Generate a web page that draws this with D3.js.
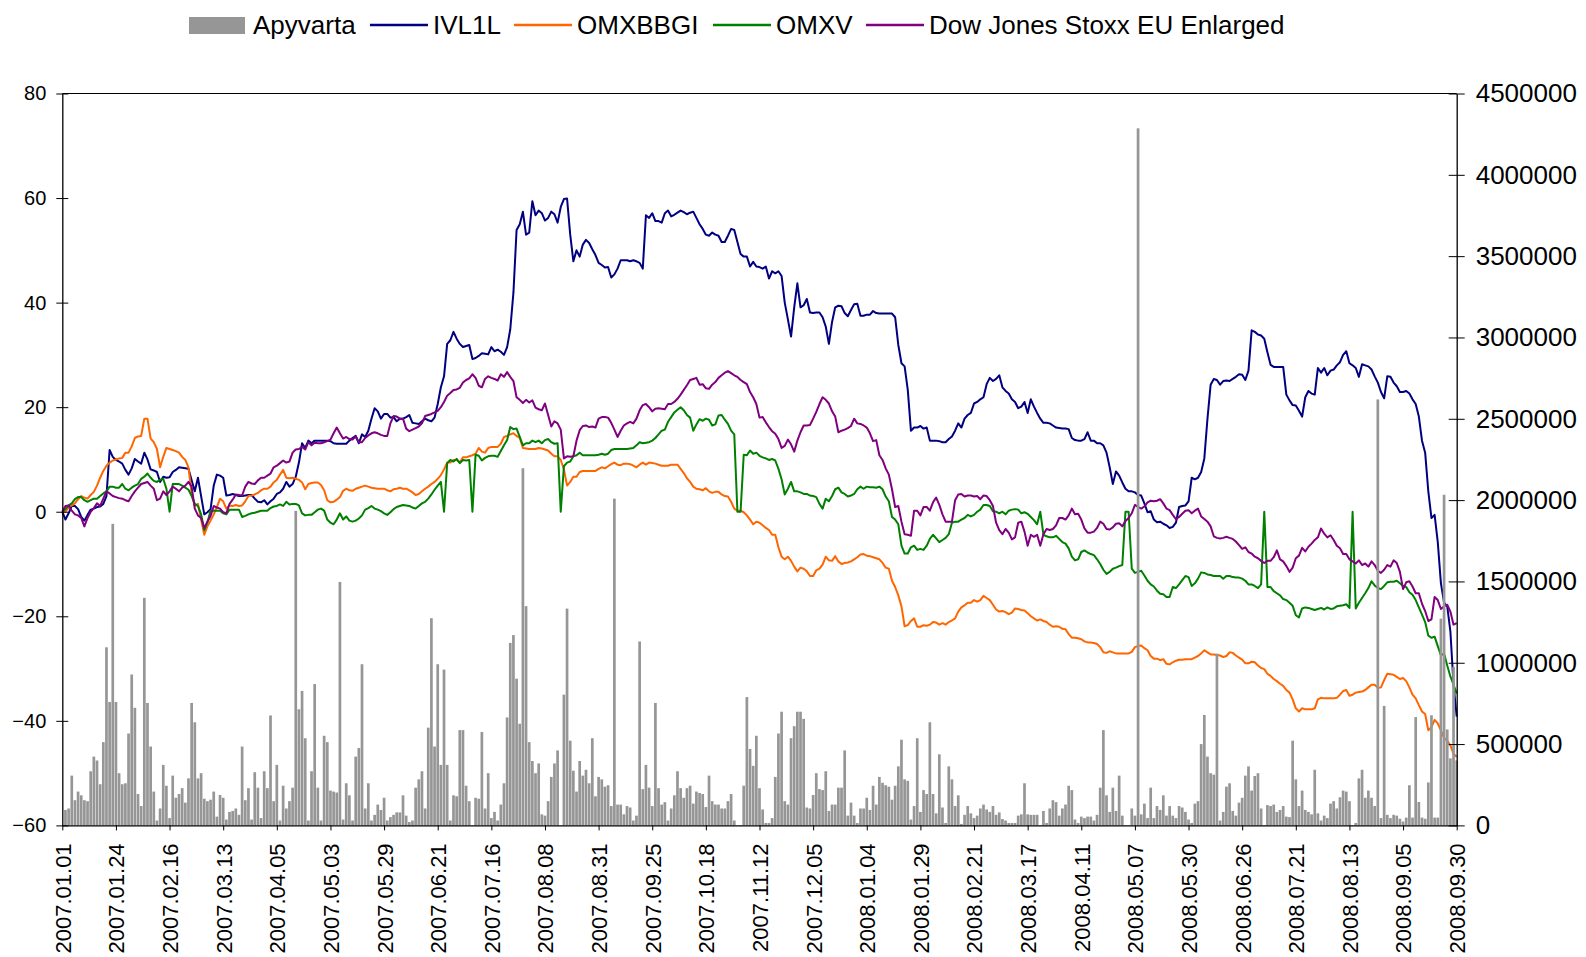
<!DOCTYPE html>
<html><head><meta charset="utf-8">
<script src="https://cdn.jsdelivr.net/npm/d3@7"></script>
<style>
html,body{margin:0;padding:0;background:#fff;}
svg{display:block;}
text{font-family:"Liberation Sans",Arial,Helvetica,sans-serif;fill:#000;}
</style>
</head><body>
<svg id="chart" width="1586" height="957"></svg>
<script>
// ---------- DATA ----------
const tickLabels = ["2007.01.01","2007.01.24","2007.02.16","2007.03.13","2007.04.05","2007.05.03","2007.05.29","2007.06.21","2007.07.16","2007.08.08","2007.08.31","2007.09.25","2007.10.18","2007.11.12","2007.12.05","2008.01.04","2008.01.29","2008.02.21","2008.03.17","2008.04.11","2008.05.07","2008.05.30","2008.06.26","2008.07.21","2008.08.13","2008.09.05","2008.09.30"];
const daysPerLabel = 17; // trading days between labelled dates

// Apyvarta (turnover), thousands
const apyvartaK = [
0,95,104,306,155,208,185,155,149,333,
423,399,253,512,1095,759,1854,759,321,253,
259,565,928,723,193,119,1399,753,485,208,
30,104,372,244,45,306,170,193,229,140,
289,753,634,289,321,164,149,158,208,54,
187,170,36,83,89,104,65,485,155,229,
36,327,232,45,333,229,676,149,372,30,
244,104,149,232,1934,714,827,536,30,333,
869,232,30,551,512,214,208,202,1497,36,
259,185,30,423,476,991,104,259,30,65,
128,95,170,30,51,65,80,80,185,60,
21,30,232,283,333,104,601,1274,485,991,
372,958,372,30,185,179,586,586,244,149,
0,170,164,574,104,321,45,83,30,128,
259,664,1122,1170,902,625,2196,1348,512,396,
321,381,68,60,149,298,381,461,0,804,
1333,521,336,208,396,306,342,259,536,179,
298,283,238,247,119,2009,128,128,68,119,
110,30,60,1131,223,372,232,119,753,229,
128,143,30,104,185,333,229,170,229,244,
134,208,199,193,113,306,149,128,128,104,
104,149,193,30,0,0,244,789,470,366,
551,229,98,15,15,45,298,565,699,149,
128,536,610,699,699,655,110,104,187,321,
223,217,333,89,128,128,232,232,461,60,
140,60,15,104,104,170,95,244,128,298,
262,247,238,158,244,363,527,283,274,36,
119,536,83,217,193,634,193,74,437,110,
15,363,283,119,185,9,65,119,74,45,
60,104,128,98,83,119,65,80,39,30,
15,15,15,60,68,259,68,65,65,65,
0,89,15,104,155,143,60,104,128,244,
217,36,15,54,45,54,54,30,65,232,
586,185,83,232,89,306,60,0,0,104,
60,4286,68,134,45,232,45,119,95,185,
60,119,60,45,119,110,83,36,15,134,
149,500,679,423,321,312,1056,30,83,238,
259,89,60,140,170,306,363,214,304,321,
104,0,125,119,128,83,95,119,54,51,
521,283,119,214,95,83,68,342,74,30,
60,45,134,149,104,173,214,208,149,0,
15,289,342,170,214,170,119,2619,45,735,
65,45,65,60,41,24,48,247,48,666,
144,48,41,264,677,48,48,1271,2033,590,
412,975,400];

const ivl1l = [
0,-1.5,-0.3,1.1,1.1,0.5,-1.0,-1.7,-0.6,0.4,
0.6,0.9,1.0,1.5,3.0,11.8,10.5,9.9,9.6,9.2,
8.0,7.1,8.3,10.1,9.6,9.2,11.3,10.0,8.1,7.9,
7.6,5.7,6.7,6.5,6.6,7.6,8.0,8.5,8.4,8.3,
8.2,6.0,3.9,6.5,3.0,-0.5,-0.1,0.5,5.0,7.1,
6.9,6.5,3.1,3.2,3.4,3.2,3.0,3.0,3.1,3.2,
3.2,2.5,1.9,1.8,2.2,1.4,2.0,2.5,3.4,3.7,
4.4,5.7,4.8,5.3,6.7,9.4,13.1,12.2,13.6,13.1,
13.6,13.6,13.6,13.6,13.6,13.5,13.1,13.0,13.0,13.0,
13.0,13.6,14.1,14.5,13.1,14.8,14.3,15.5,17.8,19.8,
19.2,17.8,18.7,18.7,18.0,18.1,17.3,17.8,17.8,18.1,
18.5,17.0,16.9,16.8,17.3,17.8,17.5,17.3,18.0,20.6,
23.8,25.9,32.1,32.8,34.4,33.1,32.1,31.5,31.7,31.9,
29.2,29.4,29.8,30.3,30.2,30.1,31.5,30.7,31.0,30.6,
30.0,31.5,34.9,41.9,53.9,55.0,57.4,53.0,53.4,59.4,
56.7,57.6,57.1,55.7,56.2,57.4,56.9,55.3,58.3,59.8,
59.9,53.0,47.9,50.0,48.8,51.1,52.0,51.4,50.2,49.1,
47.6,47.2,46.7,46.8,44.8,45.4,46.5,48.1,48.1,48.1,
47.9,48.1,47.9,47.6,46.5,56.7,56.2,57.1,55.6,55.6,
55.3,57.1,57.6,56.5,56.8,57.2,57.6,57.3,56.9,57.2,
57.4,56.2,55.0,54.1,53.0,52.8,53.4,53.0,52.8,51.6,
51.6,52.8,54.1,53.9,51.6,49.3,48.8,48.8,46.9,47.8,
46.9,46.8,46.5,46.9,44.6,46.0,45.6,46.0,45.1,40.0,
36.8,33.5,39.1,43.7,39.1,39.5,40.7,38.1,38.0,38.1,
38.1,37.2,35.4,32.1,36.3,39.1,39.4,39.3,38.0,37.4,
38.6,39.7,39.8,37.5,37.5,37.7,37.7,38.4,38.0,37.9,
37.9,37.9,37.9,37.9,37.2,31.9,28.4,27.8,23.3,15.5,
16.1,16.1,16.4,15.9,16.1,13.6,13.6,13.6,13.5,13.3,
13.3,13.9,14.4,15.5,16.9,16.1,17.8,18.5,18.9,20.7,
21.0,21.5,21.9,24.4,25.6,25.0,25.4,26.1,23.8,23.1,
22.6,21.5,21.0,19.8,20.1,21.0,18.9,21.5,20.1,18.9,
17.8,17.0,17.0,16.9,16.5,16.1,16.0,15.9,15.9,15.8,
14.1,13.7,13.6,13.6,13.9,15.2,13.6,13.6,13.1,13.1,
12.7,11.3,8.5,5.3,7.7,6.9,5.6,4.4,3.9,3.9,
3.7,3.2,3.1,1.6,-0.1,0.1,-1.5,-2.0,-1.9,-2.3,
-2.6,-3.1,-2.9,-2.1,0.9,1.1,1.2,2.0,6.5,6.2,
6.5,7.6,10.2,17.8,24.3,25.4,25.2,24.3,25.0,25.1,
25.0,25.4,25.8,26.3,26.2,25.2,27.0,34.7,34.4,33.9,
33.7,33.1,30.5,28.1,27.7,27.7,27.7,27.7,22.4,21.3,
20.4,20.3,19.3,18.2,21.9,23.1,22.6,22.4,27.5,26.6,
27.5,26.1,27.0,27.2,28.0,28.6,30.0,30.7,28.4,28.0,
27.5,25.8,28.2,28.0,27.8,27.2,25.9,24.7,22.9,21.7,
25.9,25.8,24.7,24.0,22.9,22.9,23.1,22.6,21.5,20.6,
18.2,13.6,11.3,3.9,-1.2,-0.6,-5.8,-13.7,-17.4,-18.1,
-22.9,-33.1,-39.2];

const omxbbgi = [
0,0,0.8,1.2,1.6,2.4,3.0,2.7,2.5,3.2,
3.8,5.0,6.5,7.8,8.8,9.4,9.8,10.0,10.2,10.3,
11.3,11.3,12.5,14.1,14.4,14.5,17.8,17.8,14.0,13.3,
12.0,8.5,10.5,12.2,12.0,11.8,11.6,11.3,10.5,9.9,
8.5,3.5,1.1,1.5,-1.5,-4.4,-2.8,-1.7,-0.5,0.9,
2.5,2.0,0.6,1.2,1.1,1.3,1.1,1.2,2.0,3.0,
3.1,3.3,3.6,4.1,4.4,4.4,4.8,5.6,6.1,7.1,
8.0,6.5,6.4,6.5,6.3,6.1,5.6,4.3,5.3,5.5,
5.6,5.6,5.1,4.1,2.2,1.8,1.9,2.3,2.8,4.0,
4.4,4.1,4.0,4.4,4.6,4.8,5.0,4.8,4.6,4.5,
4.4,4.4,4.4,4.1,3.9,4.3,4.4,4.6,4.4,4.4,
4.1,3.7,3.2,3.4,3.9,4.4,4.8,5.3,5.7,6.3,
7.0,8.1,9.4,9.4,9.9,9.9,9.4,10.4,10.4,10.6,
10.8,11.1,12.2,11.5,11.3,12.2,12.4,12.4,12.4,13.0,
14.3,14.5,14.8,15.0,14.5,14.1,12.2,12.1,12.0,12.0,
12.0,12.2,12.1,11.9,11.7,11.1,10.6,10.6,9.9,8.1,
5.0,5.7,6.7,6.7,7.6,7.8,7.8,7.8,7.8,7.8,
8.2,8.5,8.3,8.7,9.1,9.4,9.0,8.9,9.2,9.2,
9.1,8.8,8.5,9.0,9.4,9.0,9.4,9.3,9.2,9.0,
8.8,8.8,8.8,9.0,9.0,9.0,8.2,7.4,6.4,5.7,
4.8,4.4,4.3,4.1,4.5,3.9,3.6,3.8,3.8,3.3,
3.0,2.9,1.9,0.6,0.2,0.2,-0.1,-0.7,-1.5,-2.4,
-1.9,-2.1,-2.6,-3.1,-3.5,-4.4,-4.4,-6.8,-8.6,-9.1,
-8.6,-9.4,-10.5,-11.4,-10.7,-10.9,-11.4,-12.3,-12.3,-11.2,
-10.9,-10.1,-8.6,-9.3,-9.4,-8.5,-9.5,-10.0,-9.8,-9.7,
-9.5,-9.1,-8.7,-8.2,-8.1,-8.4,-8.5,-8.7,-8.9,-9.1,
-9.8,-10.7,-10.9,-13.2,-14.4,-16.0,-18.1,-21.9,-21.7,-20.9,
-20.4,-22.0,-22.0,-21.7,-21.8,-21.6,-21.1,-21.2,-21.6,-21.3,
-21.6,-21.1,-20.8,-20.4,-19.1,-18.3,-17.9,-17.4,-17.4,-16.9,
-17.2,-16.9,-16.1,-16.5,-16.9,-17.8,-18.7,-19.1,-19.0,-19.2,
-19.6,-19.3,-18.5,-18.6,-18.8,-18.9,-19.4,-20.0,-20.4,-20.8,
-20.6,-20.9,-21.1,-21.6,-22.0,-21.9,-22.0,-22.4,-22.5,-23.4,
-24.1,-24.1,-24.2,-24.4,-24.8,-25.0,-25.0,-25.1,-25.3,-25.9,
-26.9,-27.0,-26.7,-26.9,-27.1,-27.1,-27.1,-27.1,-27.1,-26.8,
-25.9,-25.7,-25.6,-26.1,-26.5,-27.6,-28.1,-28.1,-28.4,-28.2,
-29.1,-29.2,-28.8,-28.5,-28.3,-28.3,-28.2,-28.2,-28.2,-27.9,
-27.6,-27.1,-26.5,-26.9,-27.3,-27.3,-27.4,-27.5,-27.8,-27.6,
-26.9,-27.0,-27.5,-27.9,-28.3,-29.0,-29.0,-28.7,-28.8,-29.4,
-29.9,-30.1,-31.0,-31.4,-32.0,-32.4,-32.9,-33.3,-34.1,-34.6,
-35.9,-37.6,-38.2,-37.6,-37.8,-37.8,-37.8,-37.6,-35.9,-35.6,
-35.7,-35.7,-35.7,-35.7,-35.6,-35.0,-34.3,-34.1,-35.2,-35.0,
-34.6,-34.5,-34.4,-34.1,-33.6,-33.1,-33.1,-33.7,-33.6,-32.2,
-31.0,-31.1,-31.2,-31.6,-32.0,-31.8,-32.4,-33.6,-35.0,-35.7,
-37.0,-38.2,-38.7,-41.8,-41.2,-39.8,-40.5,-41.8,-43.3,-43.8,
-44.7,-46.3,-46.9];

const omxv = [
0,0.5,1.2,1.6,2.4,2.8,2.8,2.2,1.9,2.2,
2.5,2.5,3.0,3.5,3.9,4.8,4.8,4.6,4.6,5.3,
4.4,4.1,4.6,5.0,5.3,6.3,6.7,7.3,6.5,5.9,
5.7,6.1,6.3,4.4,0,5.3,5.3,5.3,5.0,4.6,
4.2,3.0,1.5,1.1,-0.5,-3.5,-2.0,0.2,0.2,0.2,
0.2,-0.3,-0.5,0.4,0.4,0.4,0.4,-1.0,-0.8,-0.5,
-0.3,-0.2,0.0,0.2,0.2,0.2,0.7,1.0,1.1,1.4,
1.1,1.9,1.4,1.5,1.5,1.2,-0.3,-0.7,-0.6,-0.6,
-0.1,0.4,0.6,0.2,-1.5,-2.1,-2.4,-1.5,-0.3,-1.5,
-0.9,-1.7,-1.9,-1.7,-1.3,-0.7,0.4,0.7,1.1,0.6,
0.4,0.1,-0.3,-0.6,-0.1,0.5,0.9,1.1,1.3,1.2,
1.1,0.8,0.6,1.1,1.6,1.9,2.5,3.3,4.2,5.0,
5.7,0,9.3,9.9,9.6,10.1,9.3,9.9,9.8,9.9,
0,10.9,10.7,9.8,10.3,10.6,10.7,10.7,10.5,11.6,
12.7,13.7,16.2,15.8,15.9,14.3,12.7,13.1,13.1,13.6,
13.3,13.6,13.1,13.7,13.9,13.3,13.0,13.1,0,8.7,
9.4,9.6,10.6,10.8,11.3,10.8,10.8,10.8,10.8,10.8,
10.9,11.1,10.9,11.1,11.8,12.0,12.0,12.0,12.0,12.0,
12.1,12.2,12.7,13.3,13.1,13.2,13.3,13.6,14.1,14.8,
15.5,15.7,17.2,18.1,19.0,19.5,20.0,19.4,18.5,18.0,
15.5,16.7,17.7,17.4,17.8,17.6,16.5,16.7,18.4,18.5,
17.6,16.8,15.5,14.8,0,0,10.9,10.8,11.7,11.1,
11.3,10.7,10.4,10.2,9.9,10.1,9.8,8.2,6.2,3.3,
4.4,5.7,3.9,3.9,3.7,3.4,3.4,3.1,3.0,2.8,
1.5,0.6,2.5,2.0,3.0,4.3,4.6,3.7,3.4,2.9,
3.1,3.4,4.3,4.8,4.4,4.8,4.7,4.7,4.6,4.8,
4.3,2.9,2.0,-1.0,-1.5,-2.4,-6.5,-8.0,-8.0,-6.8,
-6.5,-7.3,-7.1,-7.3,-6.5,-5.2,-4.4,-5.1,-5.8,-5.4,
-5.0,-4.3,-2.1,-1.9,-1.9,-1.5,-1.2,-0.6,-0.9,-0.6,
0.0,0.4,1.3,1.3,1.1,0.1,0.0,-0.3,0.0,-0.5,
0.2,0.4,0.5,0.4,-0.3,-0.1,-0.4,-1.0,-1.6,-2.4,
0,-4.4,-4.7,-4.9,-4.9,-4.6,-5.2,-5.8,-6.1,-7.0,
-8.6,-9.3,-9.1,-7.7,-7.4,-7.8,-8.1,-8.3,-9.1,-10.0,
-11.1,-11.9,-11.5,-10.9,-10.7,-10.4,-10.2,0,0,-10.9,
-11.7,-11.5,-11.3,-12.2,-13.2,-13.9,-14.3,-15.1,-15.7,-15.8,
-16.3,-16.3,-14.4,-14.6,-13.9,-13.1,-12.3,-12.5,-14.2,-13.7,
-12.8,-11.6,-11.7,-12.0,-12.1,-12.3,-12.3,-12.3,-12.8,-12.3,
-12.3,-12.5,-12.6,-12.6,-12.8,-13.2,-13.9,-13.9,-14.2,-14.6,
-13.9,0,-14.4,-14.4,-15.2,-15.6,-16.0,-16.7,-16.9,-17.4,
-18.0,-19.8,-20.2,-18.5,-18.3,-18.4,-18.6,-18.8,-18.6,-18.4,
-18.7,-18.3,-18.6,-18.5,-18.1,-18.0,-17.9,-17.7,-18.4,0,
-18.5,-17.4,-16.5,-15.6,-14.6,-13.3,-14.1,-14.6,-14.8,-14.2,
-13.5,-13.4,-13.4,-13.2,-13.7,-14.2,-14.4,-15.4,-15.9,-16.9,
-18.3,-19.7,-21.1,-23.7,-24.1,-23.9,-25.7,-27.5,-27.1,-29.4,
-31.5,-33.1,-34.8];

const djStoxxEuEnlarged = [
0,1.1,1.2,0.2,-0.5,-0.7,-1.2,-2.8,-1.2,0.0,
0.7,1.6,1.1,2.5,3.9,3.5,3.0,2.8,2.6,2.5,
2.2,2.0,3.0,3.9,4.6,5.3,5.5,5.7,5.0,4.4,
2.2,2.5,3.9,3.2,3.9,4.8,4.4,3.9,4.6,5.0,
5.7,4.8,0.6,-0.7,-1.2,-3.1,-1.9,-0.8,1.1,0.8,
0.6,-0.1,-0.3,1.5,2.3,3.3,3.2,3.1,4.8,5.7,
5.4,5.3,6.0,6.5,6.5,6.9,7.3,8.5,8.8,9.3,
9.8,9.4,9.6,11.3,11.9,12.0,12.4,11.9,13.3,12.7,
13.2,13.1,13.1,13.3,13.5,13.8,15.0,16.1,15.0,14.0,
14.3,13.9,13.8,14.4,13.3,13.3,14.1,14.6,15.0,15.2,
15.0,14.7,14.5,14.5,16.9,18.3,18.2,17.8,17.8,15.9,
15.4,15.7,16.0,16.3,16.9,18.3,18.5,18.7,19.0,19.3,
20.0,21.0,22.2,22.7,23.3,23.4,23.7,24.7,25.2,25.5,
26.3,25.6,24.1,23.8,25.4,25.9,25.6,25.4,25.1,26.3,
25.8,26.7,25.8,25.0,21.9,21.4,20.8,21.4,20.9,21.3,
19.9,19.6,19.4,20.7,18.5,16.3,17.3,16.9,15.7,10.2,
10.6,10.5,10.6,13.6,15.6,16.4,16.5,16.2,16.3,16.1,
17.8,18.1,18.1,18.0,17.0,15.7,14.3,15.5,16.5,16.9,
17.2,16.9,17.8,19.4,20.4,20.6,20.0,19.2,19.7,19.8,
19.7,19.6,20.6,20.6,21.0,21.6,22.4,23.3,24.2,25.2,
25.4,25.6,24.3,24.4,23.6,23.5,24.3,24.8,25.6,26.1,
26.6,26.9,26.5,26.1,25.8,25.2,24.8,24.4,22.9,21.9,
20.6,18.0,18.1,17.1,16.2,15.4,14.9,13.9,12.2,12.6,
13.8,12.9,11.5,13.6,15.2,16.5,16.5,16.6,17.8,19.1,
20.6,21.9,21.4,20.7,19.2,18.2,15.2,15.5,15.7,16.0,
16.4,17.8,16.9,16.8,16.5,16.1,15.0,13.5,13.7,10.8,
9.9,8.3,7.1,4.3,0.9,1.1,-1.9,-4.3,-4.4,-4.6,
0.2,0.2,-0.7,0.9,0.9,0.2,1.8,2.7,1.3,-0.5,
-1.9,-1.9,-1.9,2.2,3.3,3.4,2.9,3.1,3.1,2.9,
3.0,2.4,3.1,3.0,2.2,1.1,-2.1,-3.5,-4.3,-3.3,
-4.0,-5.3,-4.9,-2.1,-1.9,-3.8,-6.5,-4.4,-4.8,-4.4,
-6.5,-4.3,-3.3,-3.5,-3.3,-2.6,-1.2,-1.2,-1.5,-0.7,
0.6,-0.5,-0.4,-1.5,-3.2,-4.0,-4.0,-3.8,-3.1,-1.9,
-2.3,-3.3,-3.4,-3.0,-2.3,-2.2,-2.8,-1.8,-1.2,-0.3,
1.3,0.9,0.6,1.0,1.8,2.1,2.0,2.1,2.4,1.6,
0.6,0.3,-0.6,-1.4,-1.0,-0.4,0.2,0.3,-0.3,0.2,
0.6,-0.9,-1.4,-1.9,-2.8,-4.7,-5.0,-5.1,-5.0,-4.8,
-5.0,-5.2,-5.7,-6.4,-7.1,-6.8,-7.7,-8.0,-8.6,-8.9,
-9.4,-9.8,-9.4,-9.4,-8.7,-7.4,-9.1,-9.5,-10.4,-11.5,
-10.7,-8.9,-8.4,-6.9,-7.6,-6.7,-6.1,-5.4,-4.9,-3.2,
-4.2,-4.9,-4.5,-5.4,-6.5,-7.0,-8.1,-8.1,-9.1,-9.5,
-9.9,-9.3,-10.2,-9.9,-10.5,-9.5,-10.2,-11.3,-11.7,-11.1,
-10.2,-10.5,-9.3,-9.8,-11.5,-14.8,-13.5,-13.3,-14.3,-15.6,
-15.6,-17.6,-19.0,-20.9,-20.6,-16.3,-16.9,-18.6,-18.1,-17.8,
-19.1,-21.6,-21.3];

const leftTickValues = [-60,-40,-20,0,20,40,60,80];
const rightTickValues = [0,500000,1000000,1500000,2000000,2500000,3000000,3500000,4000000,4500000];

// ---------- CHART ----------
const svg = d3.select("#chart");
svg.append("rect").attr("width",1586).attr("height",957).attr("fill","#fff");

const plot = {left:62.3, right:1456.7, top:93.5, bottom:825.4};
const nDays = (tickLabels.length - 1) * daysPerLabel + 1;
const labelIdx = tickLabels.map((_, k) => k * daysPerLabel);

const x = d3.scaleLinear().domain([0, nDays - 1]).range([plot.left, plot.right]);
const yL = d3.scaleLinear().domain([-60, 80]).range([plot.bottom, plot.top]);
const yR = d3.scaleLinear().domain([0, 4500000]).range([plot.bottom, plot.top]);

const series = [
  {name:"IVL1L", values: ivl1l, color:"#000080"},
  {name:"OMXBBGI", values: omxbbgi, color:"#FF6600"},
  {name:"OMXV", values: omxv, color:"#008000"},
  {name:"Dow Jones Stoxx EU Enlarged", values: djStoxxEuEnlarged, color:"#800080"}
];
const barColor = "#969696";

// lines
const line = d3.line().x((d,i) => x(i)).y(d => yL(d));
svg.append("g").selectAll("path").data(series).join("path")
  .attr("d", s => line(s.values))
  .attr("fill","none")
  .attr("stroke", s => s.color)
  .attr("stroke-width", 2)
  .attr("stroke-linejoin","round");

// bars (secondary axis)
const bw = 2.7;
svg.append("g").selectAll("rect").data(apyvartaK).join("rect")
  .attr("x", (d,i) => x(i) - bw/2)
  .attr("width", bw)
  .attr("y", d => yR(d*1000))
  .attr("height", d => yR(0) - yR(d*1000))
  .attr("fill", barColor);

// top border
svg.append("line").attr("x1",plot.left).attr("x2",plot.right)
  .attr("y1",plot.top).attr("y2",plot.top).attr("stroke","#000").attr("stroke-width",1);

function styleAxis(g, fs){
  g.attr("font-family", null).attr("font-size", null);
  g.select(".domain").attr("stroke","#000").attr("stroke-width",1.3);
  g.selectAll(".tick line").attr("stroke","#000").attr("stroke-width",1);
  g.selectAll(".tick text").style("font-size", fs + "px").attr("fill","#000");
}

// left axis
const gL = svg.append("g").attr("transform",`translate(${plot.left},0)`)
  .call(d3.axisLeft(yL).tickValues(leftTickValues).tickSize(6).tickPadding(10).tickSizeOuter(0));
styleAxis(gL, 20);
gL.selectAll(".tick line").attr("x1", 6);

// right axis
const gR = svg.append("g").attr("transform",`translate(${plot.right},0)`)
  .call(d3.axisRight(yR).tickValues(rightTickValues).tickFormat(d3.format("d")).tickSize(8).tickPadding(11).tickSizeOuter(0));
styleAxis(gR, 26);
gR.selectAll(".tick line").attr("x1", -8);

// bottom axis
const gB = svg.append("g").attr("transform",`translate(0,${plot.bottom})`)
  .call(d3.axisBottom(x).tickValues(labelIdx).tickFormat((d,k) => tickLabels[k]).tickSize(5).tickSizeOuter(0));
styleAxis(gB, 22);
gB.selectAll(".tick text")
  .attr("x", 0).attr("y", 0).attr("dy", "0.36em")
  .attr("text-anchor", "end")
  .attr("transform", "translate(0,18) rotate(-90)");

// legend (layout positions)
const lg = svg.append("g");
const legendY = 25;
const textY = 33.5;
lg.append("rect").attr("x", 189).attr("y", 17).attr("width", 56).attr("height", 17).attr("fill", barColor);
lg.append("text").attr("x", 253).attr("y", textY).style("font-size","26px").text("Apyvarta");
const legendLineX = [370, 514, 713, 866];
series.forEach((s, k) => {
  const lx = legendLineX[k];
  lg.append("line").attr("x1", lx).attr("x2", lx + 58).attr("y1", legendY).attr("y2", legendY)
    .attr("stroke", s.color).attr("stroke-width", 2.5);
  lg.append("text").attr("x", lx + 63).attr("y", textY).style("font-size","26px").text(s.name);
});
</script>
</body></html>
